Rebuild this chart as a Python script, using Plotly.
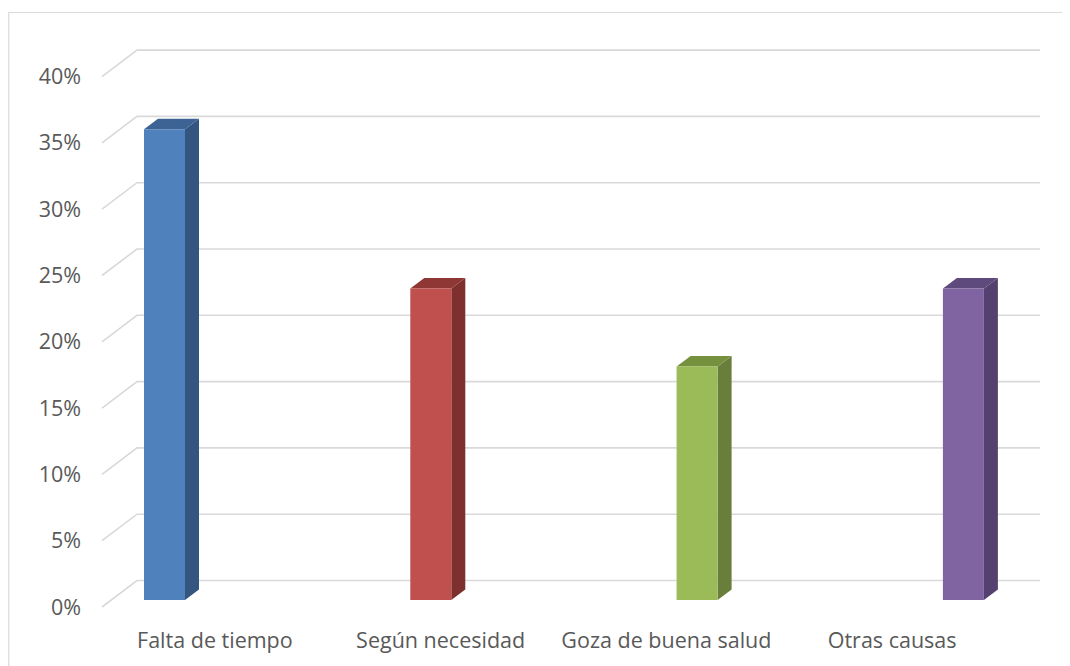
import plotly.graph_objects as go

# ---- data ----
categories = ["Falta de tiempo", "Según necesidad", "Goza de buena salud", "Otras causas"]
values = [35.5, 23.5, 17.6, 23.5]
y_ticks = [0, 5, 10, 15, 20, 25, 30, 35, 40]
y_tick_labels = ["0%", "5%", "10%", "15%", "20%", "25%", "30%", "35%", "40%"]

# ---- style ----
front_colors = ["#4F81BD", "#C0504D", "#9BBB59", "#8064A2"]
side_colors = ["#33557F", "#7E302E", "#687E3A", "#54416F"]
top_colors = ["#3C6394", "#8E3734", "#76913E", "#5F4A7D"]
grid_color = "#D9D9D9"
text_color = "#595959"
font_family = "Open Sans"
font_size = 21.5

OFF = 8                      # page body margin
WIN_W, WIN_H = 1070, 666
W, H = WIN_W - OFF, WIN_H - OFF
ML = 74                      # figure-px left margin (labels end just left of it)
PLOT_BOTTOM_REF = 625        # window px of plot-area bottom
MB = WIN_H - PLOT_BOTTOM_REF
PX_PER_UNIT = 13.26          # pixels per percentage point
FRONT_ZERO_PX = 607          # window pixel row of 0% on the front edge


def u(px):
    return px / PX_PER_UNIT


# walls / floor geometry (x axis in window pixels)
WALL_FRONT_X, WALL_BACK_X, WALL_END_X = 102, 137, 1040
WALL_DY = u(26.5)
# bars
BAR_LEFT0, BAR_STEP, BAR_W = 144, 266.3, 41
BAR_BASE = u(7)
BAR_DX, BAR_DY = 14, u(10.5)

fig = go.Figure()

# gridlines with perspective diagonal
for t in y_ticks:
    fig.add_trace(go.Scatter(
        x=[WALL_FRONT_X, WALL_BACK_X, WALL_END_X],
        y=[t, t + WALL_DY, t + WALL_DY],
        mode="lines", line=dict(color=grid_color, width=1.6),
        hoverinfo="skip", showlegend=False))

# 3D-looking bars
for i, v in enumerate(values):
    L = BAR_LEFT0 + BAR_STEP * i
    R = L + BAR_W
    b = BAR_BASE
    t = b + v
    fig.add_trace(go.Scatter(
        x=[R, R + BAR_DX, R + BAR_DX, R, R],
        y=[b, b + BAR_DY, t + BAR_DY, t, b],
        fill="toself", fillcolor=side_colors[i], mode="lines",
        line=dict(width=0, color=side_colors[i]), hoverinfo="skip", showlegend=False))
    fig.add_trace(go.Scatter(
        x=[L, R, R + BAR_DX, L + BAR_DX, L],
        y=[t, t, t + BAR_DY, t + BAR_DY, t],
        fill="toself", fillcolor=top_colors[i], mode="lines",
        line=dict(width=0, color=top_colors[i]), hoverinfo="skip", showlegend=False))
    fig.add_trace(go.Scatter(
        x=[L, R, R, L, L],
        y=[b, b, t, t, b],
        fill="toself", fillcolor=front_colors[i], mode="lines",
        line=dict(width=0, color=front_colors[i]), hoverinfo="text",
        text=f"{categories[i]}: {v}%", showlegend=False))

cat_w = (WALL_END_X - WALL_BACK_X) / len(categories)
cat_centers = [WALL_FRONT_X + cat_w * (i + 0.5) for i in range(len(categories))]

# axis ranges expressed in window pixels
x_left_ref = ML + OFF
y_top_ref = OFF
plot_h = PLOT_BOTTOM_REF - y_top_ref

fig.update_layout(
    width=W, height=H,
    margin=dict(l=ML, r=0, t=0, b=MB),
    paper_bgcolor="white", plot_bgcolor="white",
    font=dict(family=font_family, size=font_size, color=text_color),
    xaxis=dict(range=[x_left_ref, WIN_W], showgrid=False, zeroline=False, showline=False,
               tickmode="array", tickvals=cat_centers, ticktext=categories,
               ticks="", fixedrange=True),
    yaxis=dict(range=[(FRONT_ZERO_PX - PLOT_BOTTOM_REF) / PX_PER_UNIT,
                      (FRONT_ZERO_PX - y_top_ref) / PX_PER_UNIT],
               showgrid=False, zeroline=False, showline=False,
               tickmode="array", tickvals=y_ticks, ticktext=y_tick_labels,
               ticks="", fixedrange=True),
    shapes=[dict(type="rect", xref="paper", yref="paper",
                 x0=(8.8 - x_left_ref) / (WIN_W - x_left_ref), x1=1.1,
                 y0=-0.3, y1=(PLOT_BOTTOM_REF - 12.5) / plot_h,
                 line=dict(color=grid_color, width=1.2), layer="below")],
)

fig.write_html("out.html")
